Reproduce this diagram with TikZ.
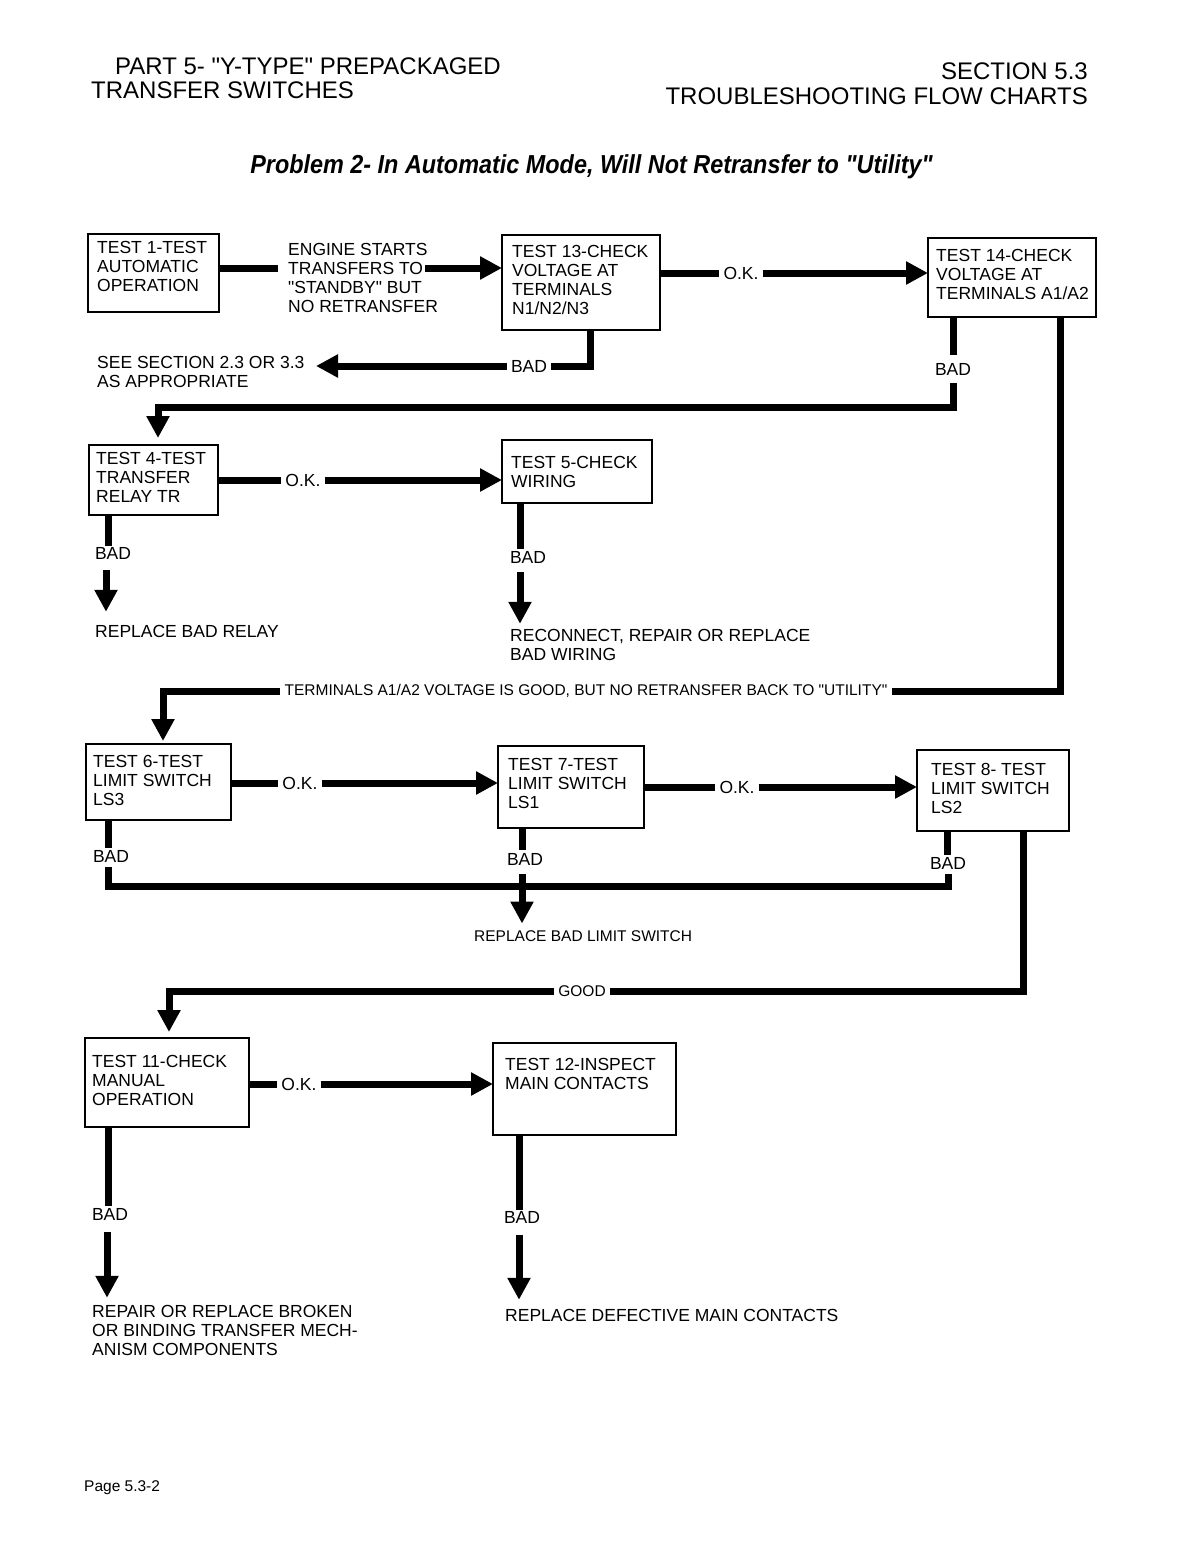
\documentclass[tikz,border=0pt]{standalone}
\usepackage{fontspec}
\setmainfont{Liberation Sans}
\newfontfamily\lsans{Liberation Sans}
\usepackage{graphicx}
\usetikzlibrary{arrows.meta}
\newcommand{\fbody}{\lsans\fontsize{17.5}{19}\selectfont}
\newcommand{\fsmall}{\lsans\fontsize{15.5}{18}\selectfont}
\newcommand{\fhead}{\lsans\fontsize{24}{26}\selectfont}
\newcommand{\ftitle}{\lsans\fontsize{26}{28}\selectfont\bfseries\itshape}
\newcommand{\fpage}{\lsans\fontsize{15.5}{17}\selectfont}
\begin{document}
\begin{tikzpicture}[x=1pt,y=-1pt,
  box/.style={draw,line width=2pt,inner sep=0pt,outer sep=0pt,anchor=north west},
  txt/.style={inner sep=0pt,anchor=north west,align=left,font=\fbody},
  hl/.style={inner xsep=4pt,inner ysep=0pt,font=\fbody},
  vl/.style={inner xsep=0pt,inner ysep=0pt,font=\fbody},
  flow/.style={line width=7pt},
  arr/.style={line width=7pt,-{Triangle[length=22pt,width=22pt]}},
]
\fill[white] (0,0) rectangle (1187,1544);
\useasboundingbox (0,0) rectangle (1187,1544);

% headers
\node[anchor=base west,inner sep=0pt,font=\fhead] (h1) at (115,75) {PART 5- "Y-TYPE" PREPACKAGED};
\node[anchor=base west,inner sep=0pt,font=\fhead] (h2) at (91,99) {TRANSFER SWITCHES};
\node[anchor=base east,inner sep=0pt,font=\fhead] (h3) at (1088,80) {SECTION 5.3};
\node[anchor=base east,inner sep=0pt,font=\fhead] (h4) at (1088,105) {TROUBLESHOOTING FLOW CHARTS};
\node[anchor=base,inner sep=0pt,font=\ftitle] (title) at (591.5,173) {\scalebox{0.9}[1]{Problem 2- In Automatic Mode, Will Not Retransfer to "Utility"}};

% row 1
\node[box,minimum width=131pt,minimum height=78pt] (t1) at (88,234) {};
\node[txt] (t1x) at (97,240.75) {TEST 1-TEST\\AUTOMATIC\\OPERATION};
\node[txt] (eng) at (288,242.75) {ENGINE STARTS\\TRANSFERS TO\\"STANDBY" BUT\\NO RETRANSFER};
\node[box,minimum width=158pt,minimum height=95pt] (t13) at (502,235) {};
\node[txt] (t13x) at (512,244.75) {TEST 13-CHECK\\VOLTAGE AT\\TERMINALS\\N1/N2/N3};
\node[hl] (ok1) at (741,273) {O.K.};
\node[box,minimum width=168pt,minimum height=79pt] (t14) at (928,238) {};
\node[txt] (t14x) at (936,248.75) {TEST 14-CHECK\\VOLTAGE AT\\TERMINALS A1/A2};
\node[hl] (bad13) at (529,366) {BAD};
\node[txt] (see) at (97,355.75) {SEE SECTION 2.3 OR 3.3\\AS APPROPRIATE};
\node[vl,inner ysep=8pt] (bad14) at (953,369) {BAD};

\coordinate (a1) at (278,268);
\coordinate (a2) at (425,268);
\draw[flow] (t1.east |- a1) -- (a1);
\draw[arr] (a2) -- (t13.west |- a2);
\draw[flow] (t13.east |- ok1) -- (ok1.west);
\draw[arr] (ok1.east) -- (t14.west |- ok1);
\coordinate (c13) at (590,366);
\draw[flow] (t13.south -| c13) -- (c13) -- (bad13.east);
\coordinate (seetip) at (316,366);
\draw[arr] (bad13.west) -- (seetip);

% row 2
\node[box,minimum width=129pt,minimum height=70pt] (t4) at (89,445) {};
\node[txt] (t4x) at (96,451.75) {TEST 4-TEST\\TRANSFER\\RELAY TR};
\node[hl] (ok4) at (303,480) {O.K.};
\node[box,minimum width=150pt,minimum height=63pt] (t5) at (502,440) {};
\node[txt] (t5x) at (511,455.75) {TEST 5-CHECK\\WIRING};

\coordinate (r4) at (953,407);
\coordinate (l4) at (158,407);
\draw[flow] (t14.south -| bad14) -- (bad14.north);
\draw[arr,shorten >=7pt] (bad14.south) -- (r4) -- (l4) -- (t4.north -| l4);

\draw[flow] (t4.east |- ok4) -- (ok4.west);
\draw[arr] (ok4.east) -- (t5.west |- ok4);

\node[vl] (bad4) at (113,553) {BAD};
\node[txt] (rep4) at (95,624.75) {REPLACE BAD RELAY};
\coordinate (b4a) at (108,546);
\coordinate (b4b) at (106,570);
\draw[flow] (t4.south -| b4a) -- (b4a);
\draw[arr,shorten >=13pt] (b4b) -- (rep4.north -| b4b);

\node[vl] (bad5) at (528,557) {BAD};
\node[txt] (rep5) at (510,628.75) {RECONNECT, REPAIR OR REPLACE\\BAD WIRING};
\coordinate (b5a) at (520,549);
\coordinate (b5b) at (520,572);
\draw[flow] (t5.south -| b5a) -- (b5a);
\draw[arr,shorten >=5pt] (b5b) -- (rep5.north -| b5b);

% terminals route
\node[hl,font=\fsmall] (ter) at (586,691) {TERMINALS A1/A2 VOLTAGE IS GOOD, BUT NO RETRANSFER BACK TO "UTILITY"};
\coordinate (r14) at (1060,691);
\coordinate (d6) at (163,691);
\draw[flow] (t14.south -| r14) -- (r14) -- (ter.east);

% row 3
\node[box,minimum width=145pt,minimum height=76pt] (t6) at (86,744) {};
\node[txt] (t6x) at (93,754.75) {TEST 6-TEST\\LIMIT SWITCH\\LS3};
\node[hl] (ok6) at (300,783) {O.K.};
\node[box,minimum width=146pt,minimum height=82pt] (t7) at (498,746) {};
\node[txt] (t7x) at (508,757.75) {TEST 7-TEST\\LIMIT SWITCH\\LS1};
\node[hl] (ok7) at (737,787) {O.K.};
\node[box,minimum width=152pt,minimum height=81pt] (t8) at (917,750) {};
\node[txt] (t8x) at (931,762.75) {TEST 8- TEST\\LIMIT SWITCH\\LS2};

\draw[arr,shorten >=3pt] (ter.west) -- (d6) -- (t6.north -| d6);
\draw[flow] (t6.east |- ok6) -- (ok6.west);
\draw[arr] (ok6.east) -- (t7.west |- ok6);
\draw[flow] (t7.east |- ok7) -- (ok7.west);
\draw[arr] (ok7.east) -- (t8.west |- ok7);

\node[vl] (bad6) at (111,856) {BAD};
\node[vl] (bad7) at (525,859) {BAD};
\node[vl] (bad8) at (948,863) {BAD};
\node[txt,font=\fsmall] (rep7) at (474,930.5) {REPLACE BAD LIMIT SWITCH};
\coordinate (b6a) at (108,848);
\coordinate (b6c) at (108,867);
\coordinate (b6d) at (108,886);
\coordinate (b8d) at (948,886);
\coordinate (b8c) at (948,874);
\coordinate (b8a) at (947,855);
\coordinate (b7a) at (522,850);
\coordinate (b7b) at (522,874);
\draw[flow] (t6.south -| b6a) -- (b6a);
\draw[flow] (t8.south -| b8a) -- (b8a);
\draw[flow] (t7.south -| b7a) -- (b7a);
\draw[flow] (b6c) -- (b6d) -- (b8d) -- (b8c);
\draw[arr,shorten >=7pt] (b7b) -- (rep7.north -| b7b);

% good route
\node[hl,font=\fsmall] (good) at (582,991) {GOOD};
\coordinate (r8) at (1023,991);
\coordinate (d11) at (169,991);
\draw[flow] (t8.south -| r8) -- (r8) -- (good.east);

% row 4
\node[box,minimum width=164pt,minimum height=89pt] (t11) at (85,1038) {};
\node[txt] (t11x) at (92,1054.75) {TEST 11-CHECK\\MANUAL\\OPERATION};
\node[hl] (ok11) at (299,1084) {O.K.};
\node[box,minimum width=183pt,minimum height=92pt] (t12) at (493,1043) {};
\node[txt] (t12x) at (505,1057.75) {TEST 12-INSPECT\\MAIN CONTACTS};

\draw[arr,shorten >=6pt] (good.west) -- (d11) -- (t11.north -| d11);
\draw[flow] (t11.east |- ok11) -- (ok11.west);
\draw[arr] (ok11.east) -- (t12.west |- ok11);

\node[vl] (bad11) at (110,1214) {BAD};
\node[vl] (bad12) at (522,1217) {BAD};
\node[txt] (rep11) at (92,1304.75) {REPAIR OR REPLACE BROKEN\\OR BINDING TRANSFER MECH-\\ANISM COMPONENTS};
\node[txt] (rep12) at (505,1308.75) {REPLACE DEFECTIVE MAIN CONTACTS};
\coordinate (b11a) at (108,1206);
\coordinate (b11b) at (107,1232);
\coordinate (b12a) at (519,1210);
\coordinate (b12b) at (519,1235);
\draw[flow] (t11.south -| b11a) -- (b11a);
\draw[flow] (t12.south -| b12a) -- (b12a);
\draw[arr,shorten >=7pt] (b11b) -- (rep11.north -| b11b);
\draw[arr,shorten >=9pt] (b12b) -- (rep12.north -| b12b);

\node[anchor=base west,inner sep=0pt,font=\fpage] (pg) at (84,1491) {Page 5.3-2};
\end{tikzpicture}
\end{document}
